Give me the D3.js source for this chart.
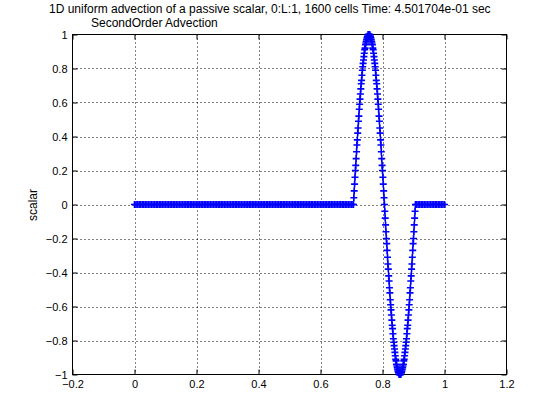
<!DOCTYPE html>
<html>
<head>
<meta charset="utf-8">
<script src="https://cdn.jsdelivr.net/npm/d3@7"></script>
<style>
  body { margin: 0; background: #fff; }
  text { font-family: "Liberation Sans", Arial, sans-serif; fill: #000; }
</style>
</head>
<body>
<svg width="560" height="420"></svg>
<script>
// title lines
var titleLines = ["1D uniform advection of a passive scalar, 0:L:1, 1600 cells Time: 4.501704e-01 sec",
                  "SecondOrder Advection"];
var yLabel = "scalar";

var xTicks = [-0.2, 0, 0.2, 0.4, 0.6, 0.8, 1, 1.2];
var yTicks = [-1, -0.8, -0.6, -0.4, -0.2, 0, 0.2, 0.4, 0.6, 0.8, 1];

// scalar left of the pulse, sampled from x=0 every 0.005
var leftX0 = 0, leftDx = 0.005;
var leftY = [
  0,0,0,0,0,0,0,0,0,0,0,0,0,0,0,0,0,0,0,0,
  0,0,0,0,0,0,0,0,0,0,0,0,0,0,0,0,0,0,0,0,
  0,0,0,0,0,0,0,0,0,0,0,0,0,0,0,0,0,0,0,0,
  0,0,0,0,0,0,0,0,0,0,0,0,0,0,0,0,0,0,0,0,
  0,0,0,0,0,0,0,0,0,0,0,0,0,0,0,0,0,0,0,0,
  0,0,0,0,0,0,0,0,0,0,0,0,0,0,0,0,0,0,0,0,
  0,0,0,0,0,0,0,0,0,0,0,0,0,0,0,0,0,0,0,0,
  0,0];

// the pulse, sampled from x=0.70625 every 0.00125
var waveX0 = 0.70625, waveDx = 0.00125;
var waveY = [
  0,0.04,0.08,0.12,0.16,0.20,0.23,0.27,0.31,0.35,0.38,0.42,0.45,0.49,0.52,0.56,0.59,0.62,0.65,0.68,
  0.71,0.73,0.76,0.79,0.81,0.83,0.85,0.87,0.89,0.91,0.92,0.94,0.95,0.96,0.97,0.98,0.99,0.99,1,1,
  1,
  1,1,0.99,0.99,0.98,0.97,0.96,0.95,0.94,0.92,0.91,0.89,0.87,0.85,0.83,0.81,0.79,0.76,0.73,0.71,
  0.68,0.65,0.62,0.59,0.56,0.52,0.49,0.45,0.42,0.38,0.35,0.31,0.27,0.23,0.20,0.16,0.12,0.08,0.04,0,
  -0.04,-0.08,-0.12,-0.16,-0.20,-0.23,-0.27,-0.31,-0.35,-0.38,-0.42,-0.45,-0.49,-0.52,-0.56,-0.59,-0.62,-0.65,-0.68,-0.71,
  -0.73,-0.76,-0.79,-0.81,-0.83,-0.85,-0.87,-0.89,-0.91,-0.92,-0.94,-0.95,-0.96,-0.97,-0.98,-0.99,-0.99,-1,-1,-1,
  -1,-1,-0.99,-0.99,-0.98,-0.97,-0.96,-0.95,-0.94,-0.92,-0.91,-0.89,-0.87,-0.85,-0.83,-0.81,-0.79,-0.76,-0.73,-0.71,
  -0.68,-0.65,-0.62,-0.59,-0.56,-0.52,-0.49,-0.45,-0.42,-0.38,-0.35,-0.31,-0.27,-0.23,-0.20,-0.16,-0.12,-0.08,-0.04,0];

// flat part after the pulse, from x=0.91 every 0.005
var rightX0 = 0.91, rightDx = 0.005;
var rightY = [0,0,0,0,0,0,0,0,0,0,0,0,0,0,0,0,0,0,0];

var pts = [];
leftY.forEach(function(v, i){ pts.push([leftX0 + i*leftDx, v]); });
waveY.forEach(function(v, i){ pts.push([waveX0 + i*waveDx, v]); });
rightY.forEach(function(v, i){ pts.push([rightX0 + i*rightDx, v]); });

var plotL = 72.5, plotR = 506.5, plotT = 34.5, plotB = 374.5;

var svg = d3.select('svg');

var x = d3.scaleLinear().domain([-0.2, 1.2]).range([plotL, plotR]);
var y = d3.scaleLinear().domain([-1, 1]).range([plotB, plotT]);

// grid
svg.append('g').selectAll('line')
    .data(xTicks.slice(1, -1))
    .enter().append('line')
    .attr('x1', function(d){ return Math.round(x(d)) + 0.5; })
    .attr('x2', function(d){ return Math.round(x(d)) + 0.5; })
    .attr('y1', plotT).attr('y2', plotB)
    .attr('stroke', '#000').attr('stroke-dasharray', '1,3');
svg.append('g').selectAll('line')
    .data(yTicks.slice(1, -1))
    .enter().append('line')
    .attr('y1', function(d){ return Math.round(y(d)) + 0.5; })
    .attr('y2', function(d){ return Math.round(y(d)) + 0.5; })
    .attr('x1', plotL).attr('x2', plotR)
    .attr('stroke', '#000').attr('stroke-dasharray', '1,3');

// axes (ticks inside, matlab style)
var fmt = function(d){ return d3.format('')(+d.toFixed(1)); };
svg.append('g')
    .attr('transform', 'translate(0,' + plotB + ')')
    .call(d3.axisBottom(x).tickValues(xTicks).tickSizeInner(-5).tickSizeOuter(0).tickPadding(6).tickFormat(fmt));
svg.append('g')
    .attr('transform', 'translate(' + plotL + ',0)')
    .call(d3.axisLeft(y).tickValues(yTicks).tickSizeInner(-5).tickSizeOuter(0).tickPadding(5).tickFormat(fmt));
svg.append('g').attr('transform', 'translate(0,' + plotT + ')')
    .call(d3.axisTop(x).tickValues(xTicks).tickSizeInner(-5).tickSizeOuter(0).tickFormat(''));
svg.append('g').attr('transform', 'translate(' + plotR + ',0)')
    .call(d3.axisRight(y).tickValues(yTicks).tickSizeInner(-5).tickSizeOuter(0).tickFormat(''));
svg.selectAll('.tick text').attr('font-size', 11).attr('font-family', '"Liberation Sans", Arial, sans-serif');
svg.selectAll('.domain').remove();

svg.append('rect')
    .attr('x', plotL).attr('y', plotT)
    .attr('width', plotR - plotL).attr('height', plotB - plotT)
    .attr('fill', 'none').attr('stroke', '#000').attr('stroke-width', 1);

// data line + markers
var line = d3.line()
    .x(function(d){ return x(d[0]); })
    .y(function(d){ return y(d[1]); });
svg.append('path')
    .datum(pts)
    .attr('d', line)
    .attr('fill', 'none')
    .attr('stroke', '#0000ff')
    .attr('stroke-width', 1);
svg.append('g').selectAll('path')
    .data(pts)
    .enter().append('path')
    .attr('transform', function(d){ return 'translate(' + x(d[0]) + ',' + y(d[1]) + ')'; })
    .attr('d', 'M-3.5,0H3.5M0,-3.5V3.5')
    .attr('stroke', '#0000ff')
    .attr('stroke-width', 1.6)
    .attr('fill', 'none');

// title & label
svg.append('text').attr('x', 49).attr('y', 13).attr('font-size', 12).text(titleLines[0]);
svg.append('text').attr('x', 91).attr('y', 27).attr('font-size', 12).text(titleLines[1]);
svg.append('text')
    .attr('transform', 'translate(37,205) rotate(-90)')
    .attr('text-anchor', 'middle')
    .attr('font-size', 12)
    .text(yLabel);
</script>
</body>
</html>
